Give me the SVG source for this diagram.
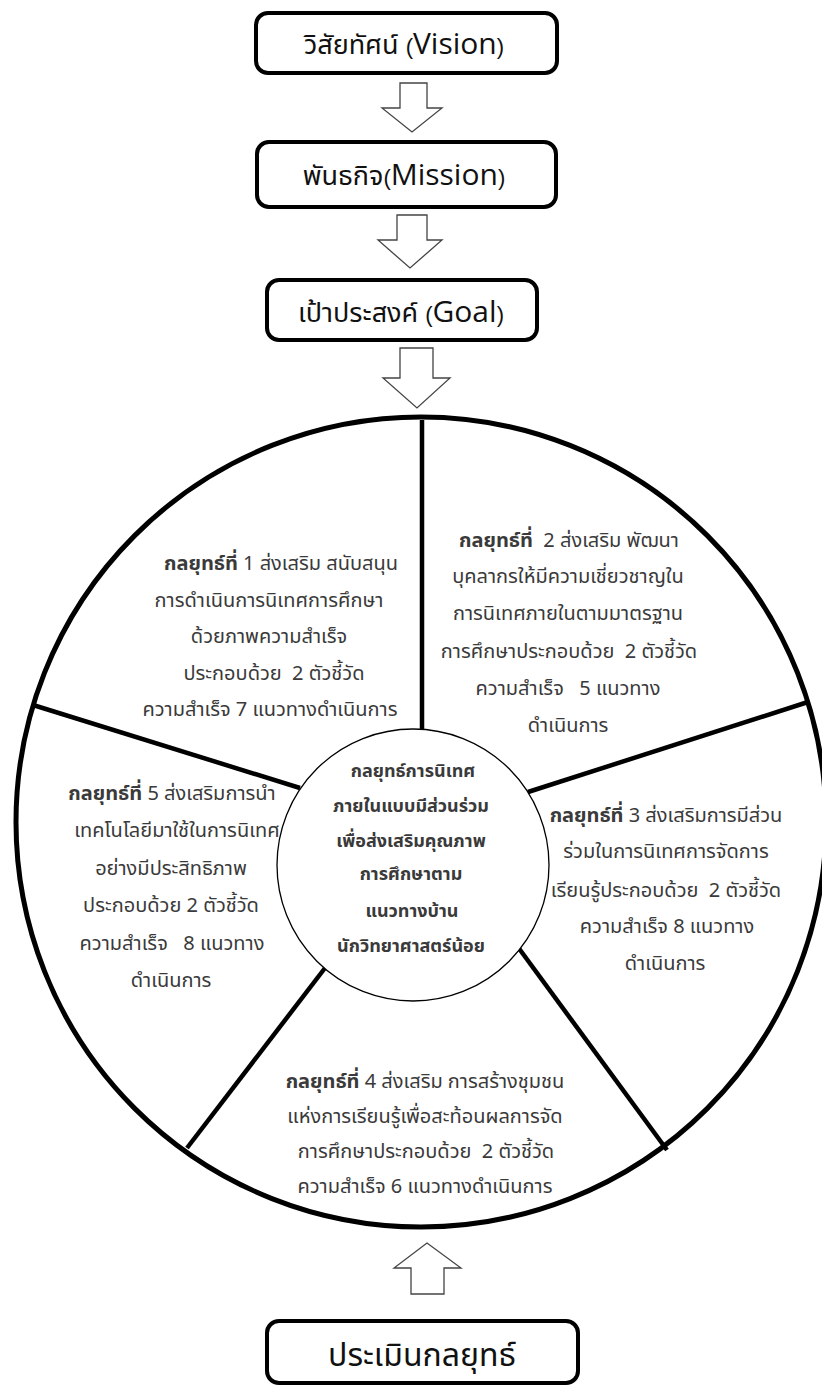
<svg xmlns="http://www.w3.org/2000/svg" width="822" height="1385" viewBox="0 0 822 1385">
<style>
.box{fill:#fff;stroke:#000;stroke-width:4}
.arr{fill:#fff;stroke:#444;stroke-width:1.3;stroke-linejoin:miter}
.t{font-family:'Noto Sans','Noto Sans Thai',sans-serif;fill:#3a3a3a;text-anchor:middle;white-space:pre}
.s{font-size:20px}
.c{font-size:18px}
.b{font-weight:bold}
.h{font-size:27px;fill:#111}
.lat{font-family:'Open Sans','Liberation Sans',sans-serif;font-size:30px}
.par{font-family:'Liberation Sans',sans-serif;font-size:22px}
.spoke{stroke:#000;stroke-width:4.5;stroke-linecap:butt}
</style>
<rect width="822" height="1385" fill="#fff"/>

<g id="vision">
<rect class="box" x="256" y="13" width="301" height="60" rx="12"/>
<text class="t h" x="404" y="54">วิสัยทัศน์ <tspan class="par">(</tspan><tspan class="lat">Vision</tspan><tspan class="par">)</tspan></text>
</g>
<g id="mission">
<rect class="box" x="257" y="142" width="299" height="65" rx="12"/>
<text class="t h" x="404" y="185">พันธกิจ<tspan class="par">(</tspan><tspan class="lat">Mission</tspan><tspan class="par">)</tspan></text>
</g>
<g id="goal">
<rect class="box" x="267" y="280" width="270" height="60" rx="12"/>
<text class="t h" x="401" y="322">เป้าประสงค์ <tspan class="par">(</tspan><tspan class="lat">Goal</tspan><tspan class="par">)</tspan></text>
</g>

<g id="connectors">
<polygon class="arr" points="400,83 427,83 427,108 442,108 412,132 382,108 400,108"/>
<polygon class="arr" points="397,215 427,215 427,240 442,240 410,268 378,240 397,240"/>
<polygon class="arr" points="400,348 433,348 433,378 450,378 417,408 383,378 400,378"/>
<polygon class="arr" points="411,1294 444,1294 444,1268 461,1268 427,1243 394,1268 411,1268"/>
</g>

<g id="wheel">
<circle cx="421" cy="822" r="405" fill="#fff" stroke="#000" stroke-width="5"/>
<line class="spoke" x1="422" y1="420" x2="422" y2="729"/>
<line class="spoke" x1="808" y1="702" x2="528" y2="792"/>
<line class="spoke" x1="515" y1="943" x2="667" y2="1150"/>
<line class="spoke" x1="325" y1="968" x2="187" y2="1148"/>
<line class="spoke" x1="33" y1="705" x2="300" y2="788"/>
</g>

<g id="strategy1">
<text class="t s" x="281" y="570" xml:space="preserve"><tspan class="b">กลยุทธ์ที่</tspan> 1 ส่งเสริม สนับสนุน</text>
<text class="t s" x="269" y="607">การดำเนินการนิเทศการศึกษา</text>
<text class="t s" x="269" y="643">ด้วยภาพความสำเร็จ</text>
<text class="t s" x="274" y="680" xml:space="preserve">ประกอบด้วย  2 ตัวชี้วัด</text>
<text class="t s" x="270" y="716">ความสำเร็จ 7 แนวทางดำเนินการ</text>
</g>
<g id="strategy2">
<text class="t s" x="569" y="547" xml:space="preserve"><tspan class="b">กลยุทธ์ที่</tspan>  2 ส่งเสริม พัฒนา</text>
<text class="t s" x="568" y="583">บุคลากรให้มีความเชี่ยวชาญใน</text>
<text class="t s" x="568" y="620">การนิเทศภายในตามมาตรฐาน</text>
<text class="t s" x="569" y="658" xml:space="preserve">การศึกษาประกอบด้วย  2 ตัวชี้วัด</text>
<text class="t s" x="568" y="695" xml:space="preserve">ความสำเร็จ   5 แนวทาง</text>
<text class="t s" x="568" y="732">ดำเนินการ</text>
</g>
<g id="strategy3">
<text class="t s" x="666" y="822" xml:space="preserve"><tspan class="b">กลยุทธ์ที่</tspan> 3 ส่งเสริมการมีส่วน</text>
<text class="t s" x="666" y="858">ร่วมในการนิเทศการจัดการ</text>
<text class="t s" x="666" y="897" xml:space="preserve">เรียนรู้ประกอบด้วย  2 ตัวชี้วัด</text>
<text class="t s" x="667" y="933">ความสำเร็จ 8 แนวทาง</text>
<text class="t s" x="665" y="970">ดำเนินการ</text>
</g>
<g id="strategy4">
<text class="t s" x="425" y="1088" xml:space="preserve"><tspan class="b">กลยุทธ์ที่</tspan> 4 ส่งเสริม การสร้างชุมชน</text>
<text class="t s" x="425" y="1123">แห่งการเรียนรู้เพื่อสะท้อนผลการจัด</text>
<text class="t s" x="426" y="1158" xml:space="preserve">การศึกษาประกอบด้วย  2 ตัวชี้วัด</text>
<text class="t s" x="425" y="1193">ความสำเร็จ 6 แนวทางดำเนินการ</text>
</g>
<g id="strategy5">
<text class="t s" x="172" y="800" xml:space="preserve"><tspan class="b">กลยุทธ์ที่</tspan> 5 ส่งเสริมการนำ</text>
<text class="t s" x="177" y="837">เทคโนโลยีมาใช้ในการนิเทศ</text>
<text class="t s" x="171" y="875">อย่างมีประสิทธิภาพ</text>
<text class="t s" x="171" y="912">ประกอบด้วย 2 ตัวชี้วัด</text>
<text class="t s" x="172" y="950" xml:space="preserve">ความสำเร็จ   8 แนวทาง</text>
<text class="t s" x="171" y="987">ดำเนินการ</text>
</g>

<g id="core">
<circle cx="413" cy="865" r="136" fill="#fff" stroke="#000" stroke-width="1.3"/>
<text class="t c b" x="413" y="777">กลยุทธ์การนิเทศ</text>
<text class="t c b" x="411" y="812">ภายในแบบมีส่วนร่วม</text>
<text class="t c b" x="411" y="847">เพื่อส่งเสริมคุณภาพ</text>
<text class="t c b" x="411" y="880">การศึกษาตาม</text>
<text class="t c b" x="412" y="917">แนวทางบ้าน</text>
<text class="t c b" x="411" y="952">นักวิทยาศาสตร์น้อย</text>
</g>

<g id="evaluate">
<rect class="box" x="267" y="1321" width="311" height="62" rx="12"/>
<text class="t" x="422" y="1366" style="font-size:32px;fill:#111">ประเมินกลยุทธ์</text>
</g>
</svg>
